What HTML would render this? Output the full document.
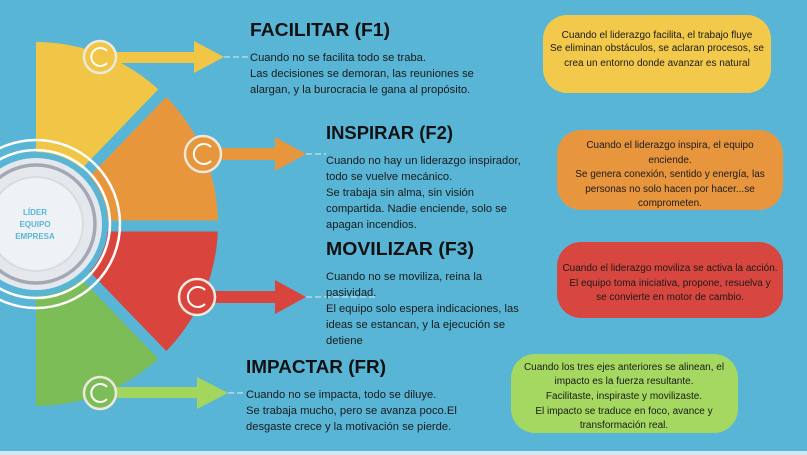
<!DOCTYPE html>
<html><head><meta charset="utf-8"><style>
html,body{margin:0;padding:0;background:#58b5d6;}
svg{display:block}
.t{font-family:"Liberation Sans",sans-serif;font-weight:bold;font-size:18px;fill:#111;}
.b{font-family:"Liberation Sans",sans-serif;font-size:11.2px;fill:#1a1a1a;}
.c{font-family:"Liberation Sans",sans-serif;font-size:10px;fill:#1a1a1a;text-anchor:middle;}
</style></head><body>
<svg width="807" height="455" viewBox="0 0 807 455" xmlns="http://www.w3.org/2000/svg">
<rect width="807" height="455" fill="#58b5d6"/>
<rect x="0" y="451" width="807" height="4" fill="#cfe8f0"/>
<g>
<path d="M36,42 A182,182 0 0 1 162.4,93.1 L36,224 Z" fill="#f1c545"/>
<path d="M162.4,93.1 A182,182 0 0 1 218,224 L36,224 Z" fill="#e8963c"/>
<path d="M218,224 A182,182 0 0 1 162.4,354.9 L36,224 Z" fill="#d9453c"/>
<path d="M162.4,354.9 A182,182 0 0 1 36,406 L36,224 Z" fill="#7dbd58"/>
<line x1="36" y1="224" x2="175" y2="80" stroke="#58b5d6" stroke-width="11"/>
<line x1="36" y1="226" x2="230" y2="226" stroke="#58b5d6" stroke-width="11"/>
<line x1="36" y1="224" x2="175" y2="368" stroke="#58b5d6" stroke-width="11"/>
<circle cx="36" cy="224" r="72" fill="#58b5d6"/>
</g>
<circle cx="36" cy="224" r="84" fill="none" stroke="#fff" stroke-width="2.5"/>
<circle cx="36" cy="224" r="74" fill="none" stroke="#fff" stroke-width="2.5"/>
<circle cx="36" cy="224" r="66" fill="#e4e8ec"/>
<circle cx="36" cy="224" r="59" fill="none" stroke="#a3a8b4" stroke-width="3.5"/>
<circle cx="36" cy="224" r="47" fill="#eef2f4" stroke="#d8dde2" stroke-width="2"/>
<g font-family="Liberation Sans,sans-serif" font-weight="bold" font-size="8" fill="#5ab5d8" text-anchor="middle">
<text x="35" y="215">LÍDER</text><text x="35" y="227">EQUIPO</text><text x="35" y="239">EMPRESA</text></g>
<g stroke="#d8eef5" stroke-width="1" stroke-dasharray="6,3" fill="none">
<line x1="224" y1="57" x2="248" y2="57"/>
<line x1="306" y1="154" x2="326" y2="154"/>
<line x1="306" y1="297" x2="378" y2="297"/>
<line x1="228" y1="393" x2="246" y2="393"/>
</g>
<g>
<rect x="100" y="52" width="96" height="11" fill="#f1c545"/><path d="M194,41 L224,57 L194,73Z" fill="#f1c545"/>
<rect x="203" y="148" width="74" height="12" fill="#e8963c"/><path d="M275,137 L306,154 L275,171Z" fill="#e8963c"/>
<rect x="197" y="291" width="80" height="12" fill="#d9453c"/><path d="M275,280 L306,297 L275,314Z" fill="#d9453c"/>
<rect x="100" y="387" width="100" height="11" fill="#a3d65c"/><path d="M197,377 L228,393 L197,409Z" fill="#a3d65c"/>
</g>
<g stroke-width="2.5">
<circle cx="100" cy="57" r="16" fill="#f1c545" stroke="#ede8dc"/><path d="M107,51 A9,9 0 1 0 107,63" fill="none" stroke="#fff" stroke-width="2"/>
<circle cx="203" cy="154" r="18" fill="#e8963c" stroke="#ede8dc"/><path d="M211,147 A10,10 0 1 0 211,161" fill="none" stroke="#fff" stroke-width="2"/>
<circle cx="197" cy="297" r="18" fill="#d9453c" stroke="#ede8dc"/><path d="M205,290 A10,10 0 1 0 205,304" fill="none" stroke="#fff" stroke-width="2"/>
<circle cx="100" cy="393" r="16" fill="#7dbd58" stroke="#ede8dc"/><path d="M107,387 A9,9 0 1 0 107,399" fill="none" stroke="#fff" stroke-width="2"/>
</g>
<text class="t" x="250" y="36" textLength="140" lengthAdjust="spacingAndGlyphs">FACILITAR (F1)</text>
<text class="b" x="250" y="61">Cuando no se facilita todo se traba.</text>
<text class="b" x="250" y="77">Las decisiones se demoran, las reuniones se</text>
<text class="b" x="250" y="93">alargan, y la burocracia le gana al propósito.</text>
<text class="t" x="326" y="139" textLength="127" lengthAdjust="spacingAndGlyphs">INSPIRAR (F2)</text>
<text class="b" x="326" y="164">Cuando no hay un liderazgo inspirador,</text>
<text class="b" x="326" y="180">todo se vuelve mecánico.</text>
<text class="b" x="326" y="196">Se trabaja sin alma, sin visión</text>
<text class="b" x="326" y="212">compartida. Nadie enciende, solo se</text>
<text class="b" x="326" y="228">apagan incendios.</text>
<text class="t" x="326" y="255" textLength="148" lengthAdjust="spacingAndGlyphs">MOVILIZAR (F3)</text>
<text class="b" x="326" y="280">Cuando no se moviliza, reina la</text>
<text class="b" x="326" y="296">pasividad.</text>
<text class="b" x="326" y="312">El equipo solo espera indicaciones, las</text>
<text class="b" x="326" y="328">ideas se estancan, y la ejecución se</text>
<text class="b" x="326" y="344">detiene</text>
<text class="t" x="246" y="373" textLength="140" lengthAdjust="spacingAndGlyphs">IMPACTAR (FR)</text>
<text class="b" x="246" y="398">Cuando no se impacta, todo se diluye.</text>
<text class="b" x="246" y="414">Se trabaja mucho, pero se avanza poco.El</text>
<text class="b" x="246" y="430">desgaste crece y la motivación se pierde.</text>
<rect x="543" y="15" width="228" height="78" rx="24" fill="#f2c94a"/>
<text class="c" x="657" y="38">Cuando el liderazgo facilita, el trabajo fluye</text>
<text class="c" x="657" y="51">Se eliminan obstáculos, se aclaran procesos, se</text>
<text class="c" x="657" y="66">crea un entorno donde avanzar es natural</text>
<rect x="557" y="130" width="226" height="80" rx="24" fill="#e8963e"/>
<text class="c" x="670" y="148">Cuando el liderazgo inspira, el equipo</text>
<text class="c" x="670" y="163">enciende.</text>
<text class="c" x="670" y="177">Se genera conexión, sentido y energía, las</text>
<text class="c" x="670" y="192">personas no solo hacen por hacer...se</text>
<text class="c" x="670" y="206">comprometen.</text>
<rect x="557" y="242" width="226" height="76" rx="24" fill="#d8473f"/>
<text class="c" x="670" y="271">Cuando el liderazgo moviliza se activa la acción.</text>
<text class="c" x="670" y="286">El equipo toma iniciativa, propone, resuelva y</text>
<text class="c" x="670" y="300">se convierte en motor de cambio.</text>
<rect x="511" y="354" width="227" height="79" rx="24" fill="#a5d860"/>
<text class="c" x="624" y="370">Cuando los tres ejes anteriores se alinean, el</text>
<text class="c" x="624" y="384">impacto es la fuerza resultante.</text>
<text class="c" x="624" y="399">Facilitaste, inspiraste y movilizaste.</text>
<text class="c" x="624" y="414">El impacto se traduce en foco, avance y</text>
<text class="c" x="624" y="428">transformación real.</text>
</svg>
</body></html>
